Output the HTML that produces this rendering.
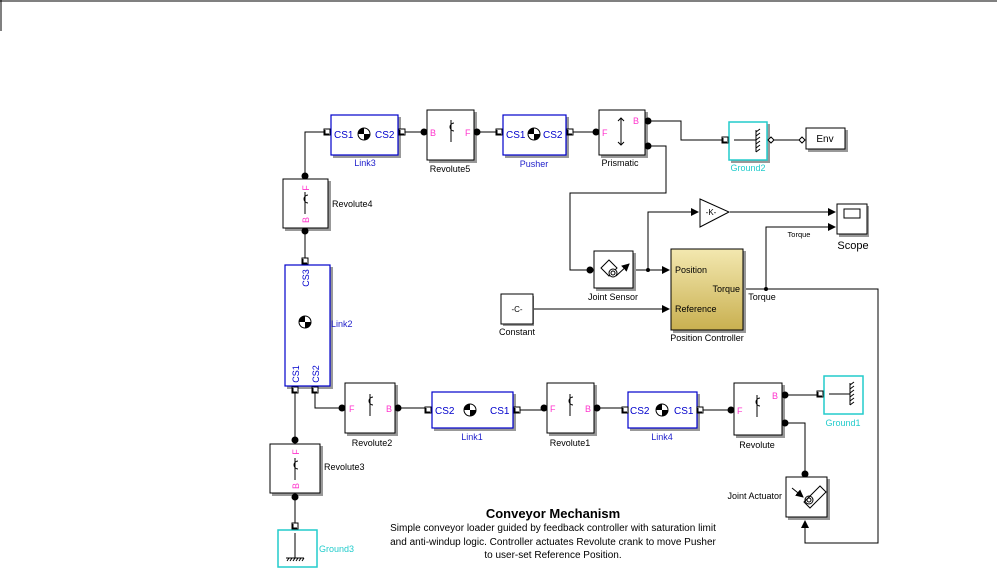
<!DOCTYPE html>
<html><head><meta charset="utf-8"><style>
body{margin:0;background:#fff}
svg{display:block;font-family:"Liberation Sans",Arial,sans-serif}
.b{fill:#fff;stroke:#000;stroke-width:1}
.l{fill:#fff;stroke:#00c;stroke-width:1.2}
.g{fill:#fff;stroke:#2cc;stroke-width:1.5}
.s{fill:#999}
.w{fill:none;stroke:#000;stroke-width:1}
.t{font-size:9px;fill:#000}
.bl{font-size:9px;fill:#22c}
.cy{font-size:9px;fill:#2cc}
.m{font-size:9px;fill:#f3c}
.cs{font-size:10px;fill:#00c}
</style></head><body>
<svg width="997" height="575" viewBox="0 0 997 575">
<defs>
<marker id="a" markerWidth="8" markerHeight="8" refX="7" refY="4" orient="auto" markerUnits="userSpaceOnUse"><path d="M0,0 L8,4 L0,8z" fill="#000"/></marker>
<linearGradient id="gold" x1="0" y1="0" x2="0" y2="1"><stop offset="0" stop-color="#f3e8b0"/><stop offset="1" stop-color="#c9b050"/></linearGradient>
<g id="cg"><circle r="6" fill="#fff" stroke="#000"/><path d="M0,0 L0,-6 A6,6 0 0 0 -6,0 Z M0,0 L0,6 A6,6 0 0 0 6,0 Z" fill="#000"/></g>
<g id="rv"><line x1="0" y1="-8" x2="0" y2="14" stroke="#000"/><path d="M3,-5 A4,4 0 1 0 3,3" fill="none" stroke="#000"/></g>
<g id="pt"><rect x="-3" y="-3" width="6" height="6" fill="#fff" stroke="#000"/><path d="M-2,-2 L-2,2 L2,2" fill="none" stroke="#000"/></g>
</defs>
<line x1="0" y1="1" x2="997" y2="1" stroke="#000"/>
<line x1="1" y1="0" x2="1" y2="31" stroke="#000"/>

<!-- wires -->
<g class="w">
<path d="M305,176 V132 H327"/>
<path d="M402,132 H424"/>
<path d="M477,132 H499"/>
<path d="M570,132 H596"/>
<path d="M648,121 H681 V140 H722"/>
<path d="M771,140 H802"/>
<path d="M648,146 H666 V193 H570 V270 H590"/>
<path d="M305,231 V258"/>
<path d="M295,393 V440"/>
<path d="M295,497 V523"/>
<path d="M315,393 V408 H342"/>
<path d="M398,408 H425"/>
<path d="M520,410 H544"/>
<path d="M597,408 H625"/>
<path d="M700,410 H731"/>
<path d="M785,395 H817"/>
<path d="M785,423 H805 V472"/>
<path d="M634,270 H669" marker-end="url(#a)"/>
<path d="M648,270 V212 H698" marker-end="url(#a)"/>
<path d="M730,212 H835" marker-end="url(#a)"/>
<path d="M744,289 H878 V543 H805 V521" marker-end="url(#a)"/>
<path d="M766,289 V227 H835" marker-end="url(#a)"/>
<path d="M534,309 H669" marker-end="url(#a)"/>
</g>
<circle cx="648" cy="270" r="2" fill="#000"/><circle cx="766" cy="289" r="2" fill="#000"/>

<!-- shadows & boxes -->
<rect class="s" x="333" y="117" width="68" height="41"/><rect class="l" x="331" y="115" width="67" height="40"/>
<use href="#cg" x="364" y="134"/><text class="cs" x="334" y="138">CS1</text><text class="cs" x="375" y="138">CS2</text>
<use href="#pt" x="327" y="132"/><use href="#pt" x="402" y="132"/>
<text class="bl" x="365" y="166" text-anchor="middle">Link3</text>

<rect class="s" x="429" y="112" width="48" height="51"/><rect class="b" x="427" y="110" width="47" height="50"/>
<use href="#rv" x="451" y="128"/><text class="m" x="430" y="136">B</text><text class="m" x="465" y="136">F</text>
<circle cx="424" cy="132" r="3.5"/><circle cx="477" cy="132" r="3.5"/>
<text class="t" x="450" y="172" text-anchor="middle">Revolute5</text>

<rect class="s" x="505" y="117" width="64" height="41"/><rect class="l" x="503" y="115" width="63" height="40"/>
<use href="#cg" x="534" y="134"/><text class="cs" x="506" y="138">CS1</text><text class="cs" x="543" y="138">CS2</text>
<use href="#pt" x="499" y="132"/><use href="#pt" x="570" y="132"/>
<text class="bl" x="534" y="167" text-anchor="middle">Pusher</text>

<rect class="s" x="601" y="112" width="47" height="46"/><rect class="b" x="599" y="110" width="46" height="45"/>
<path d="M621,118 V145 M618,121 L621,118 L624,121 M618,142 L621,145 L624,142" fill="none" stroke="#000"/>
<text class="m" x="602" y="136">F</text><text class="m" x="633" y="124">B</text>
<circle cx="596" cy="132" r="3.5"/><circle cx="648" cy="121" r="3.5"/><circle cx="648" cy="146" r="3.5"/>
<text class="t" x="620" y="166" text-anchor="middle">Prismatic</text>

<rect class="s" x="731" y="124" width="39" height="39"/><rect class="g" x="729" y="122" width="38" height="38"/>
<path d="M734,140 H756 M756,130 V152 M756,132 l4,-3 M756,136 l4,-3 M756,140 l4,-3 M756,144 l4,-3 M756,148 l4,-3 M756,152 l4,-3" stroke="#000" fill="none"/>
<use href="#pt" x="725" y="140"/>
<path d="M771,137 l3,3 l-3,3 l-3,-3z M802,137 l3,3 l-3,3 l-3,-3z" fill="#fff" stroke="#000"/>
<text class="cy" x="748" y="171" text-anchor="middle">Ground2</text>
<rect class="s" x="808" y="130" width="40" height="22"/><rect class="b" x="806" y="128" width="39" height="21"/>
<text x="825" y="142" font-size="10" text-anchor="middle">Env</text>

<rect class="s" x="285" y="181" width="46" height="50"/><rect class="b" x="283" y="179" width="45" height="49"/>
<use href="#rv" x="305" y="200"/><text class="m" x="309" y="188" transform="rotate(-90 309 188)" text-anchor="middle">F</text>
<text class="m" x="309" y="220" transform="rotate(-90 309 220)" text-anchor="middle">B</text>
<circle cx="305" cy="176" r="3.5"/><circle cx="305" cy="231" r="3.5"/>
<text class="t" x="332" y="207">Revolute4</text>

<rect class="s" x="287" y="267" width="46" height="122"/><rect class="l" x="285" y="265" width="45" height="121"/>
<use href="#cg" x="305" y="322"/>
<text class="cs" x="309" y="278" transform="rotate(-90 309 278)" text-anchor="middle" style="font-size:9px">CS3</text>
<text class="cs" x="299" y="374" transform="rotate(-90 299 374)" text-anchor="middle" style="font-size:9px">CS1</text>
<text class="cs" x="319" y="374" transform="rotate(-90 319 374)" text-anchor="middle" style="font-size:9px">CS2</text>
<use href="#pt" x="305" y="261"/><use href="#pt" x="295" y="390"/><use href="#pt" x="315" y="390"/>
<text class="bl" x="331" y="327">Link2</text>

<rect class="s" x="272" y="446" width="51" height="50"/><rect class="b" x="270" y="444" width="50" height="49"/>
<use href="#rv" x="295" y="466"/><text class="m" x="299" y="452" transform="rotate(-90 299 452)" text-anchor="middle">F</text>
<text class="m" x="299" y="486" transform="rotate(-90 299 486)" text-anchor="middle">B</text>
<circle cx="295" cy="440" r="3.5"/><circle cx="295" cy="497" r="3.5"/>
<text class="t" x="324" y="470">Revolute3</text>

<rect class="g" x="278" y="530" width="39" height="37"/>
<path d="M295,533 V558 M286,558 H304 M287,561 l2,-3 M290,561 l2,-3 M293,561 l2,-3 M296,561 l2,-3 M299,561 l2,-3 M302,561 l2,-3" stroke="#000" fill="none"/>
<use href="#pt" x="295" y="526"/>
<text class="cy" x="319" y="552">Ground3</text>

<rect class="s" x="347" y="385" width="51" height="51"/><rect class="b" x="345" y="383" width="50" height="50"/>
<use href="#rv" x="370" y="402"/><text class="m" x="349" y="412">F</text><text class="m" x="386" y="412">B</text>
<circle cx="342" cy="408" r="3.5"/><circle cx="398" cy="408" r="3.5"/>
<text class="t" x="372" y="446" text-anchor="middle">Revolute2</text>

<rect class="s" x="434" y="394" width="82" height="37"/><rect class="l" x="432" y="392" width="81" height="36"/>
<use href="#cg" x="470" y="410"/><text class="cs" x="435" y="414">CS2</text><text class="cs" x="490" y="414">CS1</text>
<use href="#pt" x="428" y="410"/><use href="#pt" x="517" y="410"/>
<text class="bl" x="472" y="440" text-anchor="middle">Link1</text>

<rect class="s" x="549" y="385" width="48" height="51"/><rect class="b" x="547" y="383" width="47" height="50"/>
<use href="#rv" x="570" y="402"/><text class="m" x="550" y="412">F</text><text class="m" x="585" y="412">B</text>
<circle cx="544" cy="408" r="3.5"/><circle cx="597" cy="408" r="3.5"/>
<text class="t" x="570" y="446" text-anchor="middle">Revolute1</text>

<rect class="s" x="630" y="394" width="70" height="37"/><rect class="l" x="628" y="392" width="69" height="36"/>
<use href="#cg" x="662" y="410"/><text class="cs" x="630" y="414">CS2</text><text class="cs" x="674" y="414">CS1</text>
<use href="#pt" x="625" y="410"/><use href="#pt" x="700" y="410"/>
<text class="bl" x="662" y="440" text-anchor="middle">Link4</text>

<rect class="s" x="736" y="385" width="49" height="53"/><rect class="b" x="734" y="383" width="48" height="52"/>
<use href="#rv" x="757" y="403"/><text class="m" x="737" y="414">F</text><text class="m" x="772" y="399">B</text>
<circle cx="731" cy="410" r="3.5"/><circle cx="785" cy="395" r="3.5"/><circle cx="785" cy="423" r="3.5"/>
<text class="t" x="757" y="448" text-anchor="middle">Revolute</text>

<rect class="g" x="824" y="376" width="39" height="38"/>
<path d="M829,394 H850 M850,383 V405 M850,385 l4,-3 M850,389 l4,-3 M850,393 l4,-3 M850,397 l4,-3 M850,401 l4,-3 M850,405 l4,-3" stroke="#000" fill="none"/>
<use href="#pt" x="820" y="394"/>
<text class="cy" x="843" y="426" text-anchor="middle">Ground1</text>

<rect class="s" x="788" y="479" width="42" height="41"/><rect class="b" x="786" y="477" width="41" height="40"/>
<circle cx="805" cy="474" r="3.5"/>
<path d="M804,502 L820,486 L826,492 L810,508 Z" fill="none" stroke="#000"/><circle cx="809" cy="500" r="4" fill="none" stroke="#000"/><circle cx="809" cy="500" r="2" fill="none" stroke="#000"/><path d="M792,488 L803,497" stroke="#000" marker-end="url(#a)"/>
<text class="t" x="782" y="499" text-anchor="end">Joint Actuator</text>

<rect class="s" x="596" y="253" width="40" height="38"/><rect class="b" x="594" y="251" width="39" height="37"/>
<path d="M601,268 L609,260 L617,268 L609,276 Z" fill="none" stroke="#000"/><circle cx="613" cy="273" r="4" fill="#fff" stroke="#000"/><circle cx="613" cy="273" r="2" fill="none" stroke="#000"/>
<path d="M616,276 L629,264" stroke="#000" marker-end="url(#a)"/>
<circle cx="590" cy="270" r="3.5"/>
<text class="t" x="613" y="300" text-anchor="middle">Joint Sensor</text>

<path d="M700,199 L729,212 L700,227 Z" fill="#fff" stroke="#000"/>
<text x="711" y="215" font-size="8" text-anchor="middle">-K-</text>

<rect class="s" x="839" y="206" width="30" height="31"/><rect class="b" x="837" y="204" width="30" height="30"/>
<rect x="844" y="209" width="16" height="9" fill="#fff" stroke="#000"/>
<text x="853" y="249" font-size="11" text-anchor="middle">Scope</text>
<text x="799" y="237" font-size="7.5" text-anchor="middle">Torque</text>

<rect class="s" x="673" y="251" width="73" height="82"/><rect x="671" y="249" width="72" height="81" fill="url(#gold)" stroke="#000"/>
<text class="t" x="675" y="273">Position</text><text class="t" x="675" y="312">Reference</text>
<text class="t" x="740" y="292" text-anchor="end" font-size="8">Torque</text>
<text class="t" x="707" y="341" text-anchor="middle" font-size="8">Position Controller</text>
<text class="t" x="762" y="300" text-anchor="middle">Torque</text>

<rect class="s" x="503" y="296" width="31" height="30"/><rect class="b" x="501" y="294" width="32" height="30"/>
<text x="517" y="312" font-size="8" text-anchor="middle">-C-</text>
<text class="t" x="517" y="335" text-anchor="middle">Constant</text>

<text x="553" y="518" font-size="13" font-weight="bold" text-anchor="middle">Conveyor Mechanism</text>
<text x="553" y="531" font-size="10" text-anchor="middle">Simple conveyor loader guided by feedback controller with saturation limit</text>
<text x="553" y="545" font-size="10" text-anchor="middle">and anti-windup logic. Controller actuates Revolute crank to move Pusher</text>
<text x="553" y="558" font-size="10" text-anchor="middle">to user-set Reference Position.</text>
</svg>
</body></html>
